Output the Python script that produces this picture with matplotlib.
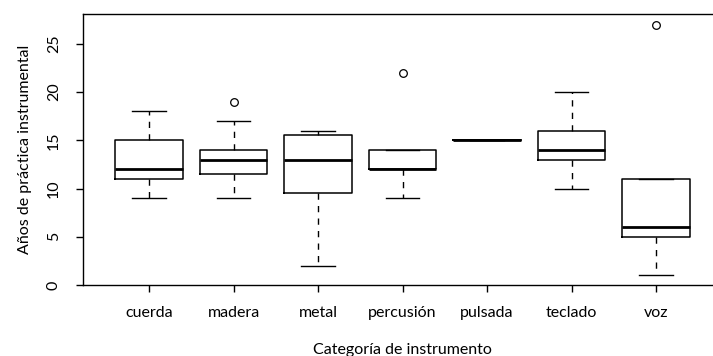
import matplotlib
matplotlib.use("Agg")
import matplotlib.pyplot as plt

plt.rcParams['font.family'] = ['Lato', 'DejaVu Sans']

# box statistics per instrument category
categorias = ["cuerda", "madera", "metal", "percusión", "pulsada", "teclado", "voz"]
bigote_inf = [9, 9, 2, 9, 15, 10, 1]
cuartil_1 = [11, 11.5, 9.5, 12, 15, 13, 5]
mediana = [12, 13, 13, 12, 15, 14, 6]
cuartil_3 = [15, 14, 15.5, 14, 15, 16, 11]
bigote_sup = [18, 17, 16, 14, 15, 20, 11]
atipicos = [[], [19], [], [22], [], [], [27]]

stats = []
for i, cat in enumerate(categorias):
    stats.append({
        "label": cat,
        "whislo": bigote_inf[i], "q1": cuartil_1[i], "med": mediana[i],
        "q3": cuartil_3[i], "whishi": bigote_sup[i], "fliers": atipicos[i],
    })

fig = plt.figure(figsize=(7.13, 3.56), dpi=100)
ax = fig.add_axes([0.1166, 0.1994, 0.896, 0.761])

ax.bxp(stats, positions=range(1, 8), widths=0.8, showfliers=True,
       boxprops=dict(color="black", linewidth=1.1),
       medianprops=dict(color="black", linewidth=2.0, solid_capstyle="butt"),
       whiskerprops=dict(color="black", linewidth=1.0, linestyle=(0, (4.5, 4.5))),
       capprops=dict(color="black", linewidth=1.0),
       flierprops=dict(marker="o", markerfacecolor="none", markeredgecolor="black",
                       markersize=5.5, markeredgewidth=0.9),
       capwidths=0.4)

ax.set_xlim(0.22, 7.78)
ax.set_ylim(0, 28.08)
ax.set_yticks([0, 5, 10, 15, 20, 25])
ax.set_yticklabels(["0", "5", "10", "15", "20", "25"], rotation=90, va="center")
ax.set_xticks(range(1, 8))
ax.set_xticklabels(categorias)
ax.tick_params(axis="both", direction="out", length=5, width=1, labelsize=11.5, color="black")
ax.tick_params(axis="x", pad=10)
ax.tick_params(axis="y", pad=11)
for s in ax.spines.values():
    s.set_linewidth(1)
    s.set_color("black")

ax.set_xlabel("Categoría de instrumento", fontsize=11.5, labelpad=17)
ax.set_ylabel("Años de práctica instrumental", fontsize=11.5, labelpad=11)

fig.savefig("out.png", dpi=100)
